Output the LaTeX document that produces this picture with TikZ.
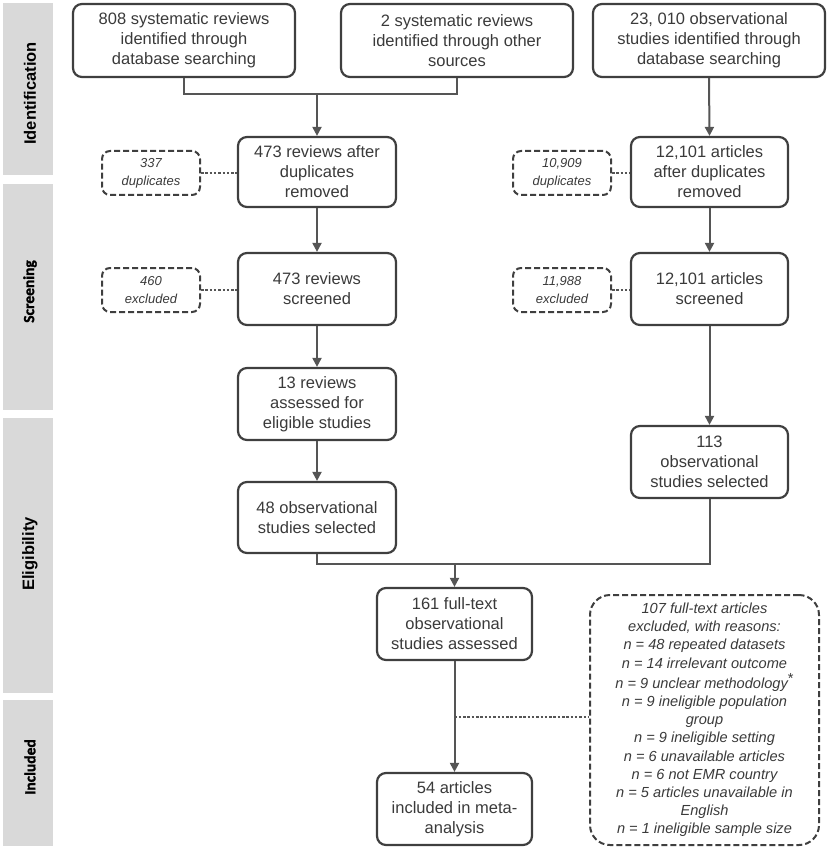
\documentclass[tikz,border=0pt]{standalone}
\usepackage{fontspec}
\setmainfont{Liberation Sans}
\newfontfamily\carlitofont{Carlito}[BoldFeatures={FakeBold=1.5}]
\usetikzlibrary{arrows.meta}
\definecolor{boxline}{HTML}{3F3F3F}
\definecolor{boxtext}{HTML}{3A3A3A}
\definecolor{conn}{HTML}{555555}
\definecolor{barfill}{HTML}{D9D9D9}
\begin{document}
\begin{tikzpicture}[x=1pt,y=-1pt,
  mainbox/.style={draw=boxline, line width=2.2pt, rounded corners=9pt, align=center,
    text=boxtext, inner sep=0pt, font=\fontsize{16.5}{20}\selectfont},
  exbox/.style={draw=boxline, line width=2pt, dash pattern=on 6pt off 3pt, rounded corners=8pt,
    align=center, text=boxtext, inner sep=0pt, font=\fontsize{13}{18}\selectfont\itshape,
    minimum width=98pt, minimum height=44pt},
  bigex/.style={draw=boxline, line width=2pt, dash pattern=on 6pt off 3pt, rounded corners=20pt,
    align=center, text=boxtext, inner sep=0pt, font=\fontsize{14.6}{18.2}\selectfont\itshape},
  sidebar/.style={fill=barfill, draw=none},
  sidelabel/.style={rotate=90, font=\fontsize{16.5}{18}\selectfont\bfseries, text=black},
  sidelabelc/.style={rotate=90, font=\fontsize{15.5}{18}\selectfont\carlitofont\bfseries, text=black},
  arr/.style={draw=conn, line width=2pt, -{Triangle[length=9pt,width=9pt]}},
  ln/.style={draw=conn, line width=2pt},
  dotln/.style={draw=conn, line width=1.6pt, dash pattern=on 2.5pt off 1.8pt}
]
\useasboundingbox (0,0) rectangle (829,850);

% side bars
\fill[sidebar] (3,3) rectangle (53,175);
\fill[sidebar] (3,184) rectangle (53,410);
\fill[sidebar] (3,418) rectangle (53,693);
\fill[sidebar] (3,700) rectangle (53,846);
\node[sidelabel] (lid) at (30,93.5) {Identification};
\node[sidelabelc] (lsc) at (30,291.5) {Screening};
\node[sidelabel] (lel) at (30,554) {Eligibility};
\node[sidelabelc] (lin) at (30,767) {Included};

% top row
\node[mainbox, minimum width=222pt, minimum height=73pt] (A) at (184,40.5)
  {808 systematic reviews\\identified through\\database searching};
\node[mainbox, minimum width=232pt, minimum height=73pt] (B) at (457,40.5)
  {2 systematic reviews\\identified through other\\sources};
\node[mainbox, minimum width=232pt, minimum height=73pt] (C) at (709,40.5)
  {23, 010 observational\\studies identified through\\database searching};

% duplicates removed
\node[mainbox, minimum width=158pt, minimum height=70pt] (D) at (317,172)
  {473 reviews after\\duplicates\\removed};
\node[mainbox, minimum width=157pt, minimum height=70pt] (E) at (709.5,172)
  {12,101 articles\\after duplicates\\removed};
\node[exbox] (dupA) at (151,173) {337\\duplicates};
\node[exbox] (dupB) at (562,173) {10,909\\duplicates};

% screened
\node[mainbox, minimum width=158pt, minimum height=72pt] (F) at (317,289)
  {473 reviews\\screened};
\node[mainbox, minimum width=157pt, minimum height=72pt] (G) at (709.5,289)
  {12,101 articles\\screened};
\node[exbox] (exA) at (151,290) {460\\excluded};
\node[exbox] (exB) at (562,290) {11,988\\excluded};

% eligibility
\node[mainbox, minimum width=158pt, minimum height=72pt] (H) at (317,404)
  {13 reviews\\assessed for\\eligible studies};
\node[mainbox, minimum width=158pt, minimum height=71pt] (I) at (317,517.5)
  {48 observational\\studies selected};
\node[mainbox, minimum width=157pt, minimum height=72pt] (J) at (709.5,462)
  {113\\observational\\studies selected};

% full text and included
\node[mainbox, minimum width=155pt, minimum height=72pt] (K) at (454.5,624)
  {161 full-text\\observational\\studies assessed};
\node[mainbox, minimum width=155pt, minimum height=72pt] (L) at (454.5,809)
  {54 articles\\included in meta-\\analysis};
\node[bigex, minimum width=229pt, minimum height=250pt] (M) at (704.5,720)
  {107 full-text articles\\excluded, with reasons:\\n = 48 repeated datasets\\n = 14 irrelevant outcome\\[2pt]
   n = 9 unclear methodology\raisebox{0.35em}{\upshape *}\\n = 9 ineligible population\\group\\
   n = 9 ineligible setting\\n = 6 unavailable articles\\n = 6 not EMR country\\
   n = 5 articles unavailable in\\English\\n = 1 ineligible sample size};

% connectors
\coordinate (jtop) at (317,94);
\draw[ln] (A.south) |- (jtop) -| (B.south);
\draw[arr] (jtop) -- (D.north);
\draw[arr] (C.south) -- (E.north);
\draw[arr] (D.south) -- (F.north);
\draw[arr] (E.south) -- (G.north);
\draw[arr] (F.south) -- (H.north);
\draw[arr] (H.south) -- (I.north);
\draw[arr] (G.south) -- (J.north);
\coordinate (jmid) at (454.5,564);
\draw[ln] (I.south) |- (jmid) -| (J.south);
\draw[arr] (jmid) -- (K.north);
\draw[arr] (K.south) -- (L.north);
\coordinate (jex) at (454.5,717);
\draw[dotln] (jex) -- (jex -| M.west);
\draw[dotln] (dupA.east) -- (dupA.east -| D.west);
\draw[dotln] (dupB.east) -- (dupB.east -| E.west);
\draw[dotln] (exA.east) -- (exA.east -| F.west);
\draw[dotln] (exB.east) -- (exB.east -| G.west);
\end{tikzpicture}
\end{document}
